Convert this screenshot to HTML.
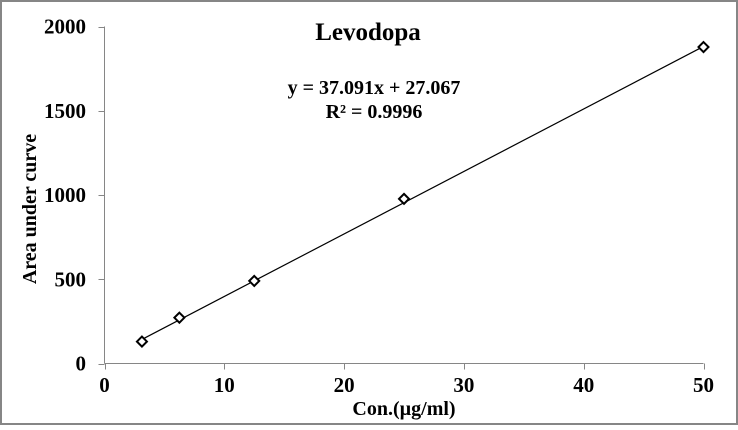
<!DOCTYPE html>
<html><head><meta charset="utf-8"><style>
html,body{margin:0;padding:0;background:#fff}
svg text{font-family:"Liberation Serif",serif;font-weight:bold;fill:#000}
</style></head><body>
<svg width="738" height="425" xmlns="http://www.w3.org/2000/svg">
<rect x="1" y="1" width="736" height="423" fill="#fff" stroke="#868686" stroke-width="2"/>
<text x="368" y="40" font-size="25" text-anchor="middle">Levodopa</text>
<text x="374" y="94" font-size="20" text-anchor="middle">y = 37.091x + 27.067</text>
<text x="374" y="118" font-size="20" text-anchor="middle">R² = 0.9996</text>
<text x="404" y="415" font-size="20" text-anchor="middle">Con.(µg/ml)</text>
<text transform="translate(36,209) rotate(-90)" font-size="20" text-anchor="middle">Area under curve</text>
<g id="axes"></g>
<g id="marks"></g>
</svg>
<script>
const xVals=[3.125,6.25,12.5,25,50];
const yVals=[130,272,490,977,1878];
const xTicks=[0,10,20,30,40,50];
const yTicks=[0,500,1000,1500,2000];
const slope=37.091, intercept=27.067;
const X0=104.5,X1=703.5,Y0=363.5,Y1=26.5;
const sx=v=>X0+(v-0)/50*(X1-X0);
const sy=v=>Y0-(v-0)/2000*(Y0-Y1);
const NS="http://www.w3.org/2000/svg";
const axes=document.getElementById('axes'),marks=document.getElementById('marks');
function mk(t,a,p){const e=document.createElementNS(NS,t);for(const k in a)e.setAttribute(k,a[k]);p.appendChild(e);return e;}
let e=mk('line',{x1:X0,y1:Y1,x2:X0,y2:Y0,stroke:'#868686'},axes);


e=mk('line',{x1:X0,y1:Y0,x2:X1,y2:Y0,stroke:'#868686'},axes);


xTicks.forEach(t=>{
 const x=Math.round(sx(t))+0.5;
 let l=mk('line',{x1:x,y1:Y0,x2:x,y2:Y0+6,stroke:'#868686'},axes);
 
 
 let tx=mk('text',{x:sx(t),y:392,'font-size':21,'text-anchor':'middle'},axes);tx.textContent=t;
 
 
});
yTicks.forEach(t=>{
 const y=Math.round(sy(t))+0.5;
 let l=mk('line',{x1:X0-6,y1:y,x2:X0,y2:y,stroke:'#868686'},axes);
 
 
 let tx=mk('text',{x:86,y:sy(t)+7,'font-size':21,'text-anchor':'end'},axes);tx.textContent=t;
 
 
});
const xa=xVals[0],xb=xVals[xVals.length-1];
let tl=mk('line',{x1:sx(xa),y1:sy(slope*xa+intercept),x2:sx(xb),y2:sy(slope*xb+intercept),stroke:'#000','stroke-width':1.2},marks);


xVals.forEach((v,i)=>{
 const cx=sx(v),cy=sy(yVals[i]);
 let p=mk('polygon',{points:`${cx},${cy-5} ${cx+5},${cy} ${cx},${cy+5} ${cx-5},${cy}`,fill:'#fff',stroke:'#000','stroke-width':2},marks);
 
 
});
</script>
</body></html>
